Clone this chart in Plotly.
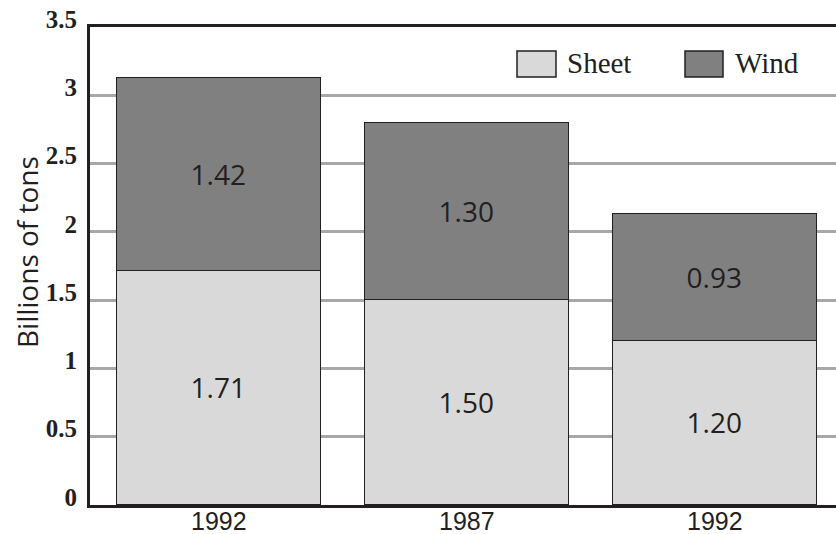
import plotly.graph_objects as go

# Soil erosion on cropland, split by erosion type
years = ["1992", "1987", "1992"]
positions = [0, 1, 2]
sheet = [1.71, 1.50, 1.20]
wind = [1.42, 1.30, 0.93]

y_ticks = [0, 0.5, 1, 1.5, 2, 2.5, 3, 3.5]
y_tick_text = ["0", "0.5", "1", "1.5", "2", "2.5", "3", "3.5"]

INK = "#231f20"
SHEET_COLOR = "#d9d9d9"
WIND_COLOR = "#808080"
GRID = "#a8a8a8"

W, H = 836, 534
M_L, M_R, M_T, M_B = 90, 0, 27, 29
plot_w = W - M_L - M_R
plot_h = H - M_T - M_B

bar_font = dict(family="Open Sans, Noto Sans, sans-serif", size=28, color=INK)

fig = go.Figure()
fig.add_trace(go.Bar(
    x=positions, y=sheet, name="Sheet",
    marker=dict(color=SHEET_COLOR, line=dict(color=INK, width=1.5)),
    text=[f"{v:.2f}" for v in sheet], textposition="inside",
    insidetextanchor="middle", textfont=bar_font, width=0.82,
    showlegend=False,
))
fig.add_trace(go.Bar(
    x=positions, y=wind, name="Wind",
    marker=dict(color=WIND_COLOR, line=dict(color=INK, width=1.5)),
    text=[f"{v:.2f}" for v in wind], textposition="inside",
    insidetextanchor="middle", textfont=bar_font, width=0.82,
    showlegend=False,
))


def px_x(px):
    return (px - M_L) / plot_w


def px_y(py):
    return (H - M_B - py) / plot_h


# Legend: boxed swatches with serif labels
legend_items = [("Sheet", SHEET_COLOR, 517, 556, 565), ("Wind", WIND_COLOR, 685, 723, 733)]
shapes = []
annotations = []
for label, color, sx0, sx1, tx in legend_items:
    shapes.append(dict(
        type="rect", xref="paper", yref="paper",
        x0=px_x(sx0), x1=px_x(sx1), y0=px_y(77), y1=px_y(51),
        fillcolor=color, line=dict(color=INK, width=1.5), layer="above",
    ))
    annotations.append(dict(
        text=label, xref="paper", yref="paper", x=px_x(tx), y=px_y(63),
        xanchor="left", yanchor="middle", showarrow=False,
        font=dict(family="Liberation Serif, serif", size=29, color=INK),
    ))

# Category labels under each bar (narrow sans)
for pos, year in zip(positions, years):
    annotations.append(dict(
        text=f'<span style="font-stretch:condensed">{year}</span>',
        xref="x", yref="paper", x=pos, y=px_y(521),
        xanchor="center", yanchor="middle", showarrow=False,
        font=dict(family="Liberation Sans Narrow, Liberation Sans, sans-serif",
                  size=25, color=INK),
    ))

annotations.append(dict(
    text="Billions of tons", xref="paper", yref="paper",
    x=px_x(27), y=px_y(252), textangle=-90,
    xanchor="center", yanchor="middle", showarrow=False,
    font=dict(family="Open Sans, Noto Sans, sans-serif", size=28, color=INK),
))

fig.update_layout(
    width=W, height=H,
    margin=dict(l=M_L, r=M_R, t=M_T, b=M_B, autoexpand=False),
    paper_bgcolor="white", plot_bgcolor="white",
    barmode="stack", bargap=0,
    shapes=shapes, annotations=annotations,
    xaxis=dict(
        range=[-0.52, 2.488], tickvals=positions, showticklabels=False,
        showgrid=False, zeroline=False,
        showline=True, linecolor=INK, linewidth=3, mirror=True,
        ticks="",
    ),
    yaxis=dict(
        range=[0, 3.5], tickvals=y_ticks, ticktext=y_tick_text,
        showgrid=True, gridcolor=GRID, gridwidth=2.5, zeroline=False,
        showline=True, linecolor=INK, linewidth=3,
        ticks="", ticklabelstandoff=5, ticklabelshift=-8,
        tickfont=dict(family="Liberation Serif, serif", size=25, color=INK,
                      weight="bold"),
    ),
)

fig.write_html("out.html")
